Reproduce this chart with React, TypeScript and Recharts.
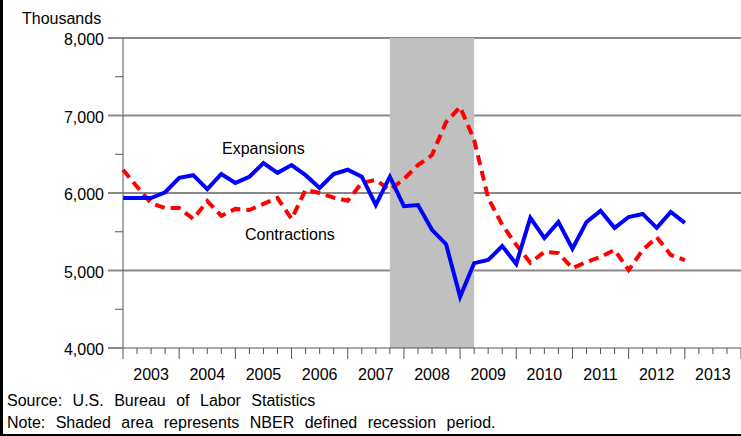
import React from "react";
import { LineChart, Line, XAxis, YAxis, ReferenceLine, ReferenceArea } from "recharts";

// quarter index 0 = first quarter of 2003
const years = [2003, 2004, 2005, 2006, 2007, 2008, 2009, 2010, 2011, 2012, 2013];
const quarterTicks = [
  0, 1, 2, 3, 4, 5, 6, 7, 8, 9, 10, 11, 12, 13, 14, 15, 16, 17, 18, 19, 20, 21, 22,
  23, 24, 25, 26, 27, 28, 29, 30, 31, 32, 33, 34, 35, 36, 37, 38, 39, 40, 41, 42, 43, 44,
];
const yTicks = [4000, 4500, 5000, 5500, 6000, 6500, 7000, 7500, 8000];
const gridValues = [5000, 6000, 7000, 8000];
const recession = [19, 25];

const expansions = [
  5935, 5935, 5935, 6010, 6195, 6230, 6050, 6245, 6130, 6210, 6385, 6260, 6360, 6230,
  6065, 6245, 6300, 6210, 5845, 6210, 5830, 5845, 5525, 5340, 4660, 5095, 5135, 5315,
  5085, 5680, 5420, 5625, 5280, 5625, 5770, 5550, 5690, 5730, 5550, 5755, 5615,
];
const contractions = [
  6300, 6080, 5870, 5805, 5805, 5665, 5895, 5705, 5795, 5780, 5860, 5935, 5665, 6040,
  6000, 5940, 5900, 6130, 6170, 6040, 6180, 6360, 6490, 6915, 7110, 6685, 5935, 5590,
  5330, 5100, 5240, 5225, 5030, 5110, 5175, 5265, 5005, 5265, 5430, 5200, 5135,
];

const data = expansions.map((v, i) => ({ q: i, expansions: v, contractions: contractions[i] }));

const font = '"Liberation Sans", Arial, Helvetica, sans-serif';

const XTick = (props: any) => {
  const { x, y, payload } = props;
  const q = payload.value;
  const major = q % 4 === 0;
  return (
    <g>
      <line x1={x} y1={y} x2={x} y2={y + (major ? 11 : 6)} stroke="#555" strokeWidth={1} />
      {q % 4 === 2 && (
        <text x={x} y={y + 32} textAnchor="middle" fontSize={16} fontFamily={font} fill="#000">
          {years[(q - 2) / 4]}
        </text>
      )}
    </g>
  );
};

const YTick = (props: any) => {
  const { x, y, payload } = props;
  const v = payload.value;
  const major = v % 1000 === 0;
  return (
    <g>
      <line
        x1={x - (major ? 15 : 8)}
        y1={y}
        x2={x}
        y2={y}
        stroke={major ? "#888" : "#555"}
        strokeWidth={major ? 2 : 1}
      />
      {major && (
        <text x={x - 19} y={y + 7} textAnchor="end" fontSize={16} fontFamily={font} fill="#000">
          {v.toLocaleString("en-US")}
        </text>
      )}
    </g>
  );
};

export default function App() {
  return (
    <div
      style={{
        position: "absolute",
        left: 0,
        top: 0,
        width: 741,
        height: 436,
        background: "#fff",
        fontFamily: font,
        overflow: "hidden",
      }}
    >
      <LineChart width={741} height={436} data={data} margin={{ top: 38, right: 0, bottom: 58, left: 0 }}>
        {gridValues.map((v) => (
          <ReferenceLine key={v} y={v} stroke="#888" strokeWidth={2} zIndex={50} />
        ))}
        <ReferenceArea
          x1={recession[0]}
          x2={recession[1]}
          y1={4000}
          y2={8000}
          fill="#c0c0c0"
          fillOpacity={1}
          stroke="none"
          zIndex={60}
        />
        <XAxis
          type="number"
          dataKey="q"
          domain={[0, 44]}
          ticks={quarterTicks}
          interval={0}
          height={30}
          tickSize={0}
          tickMargin={0}
          tick={<XTick />}
          axisLine={{ stroke: "#555" }}
        />
        <YAxis
          type="number"
          domain={[4000, 8000]}
          ticks={yTicks}
          interval={0}
          width={123}
          tickSize={0}
          tickMargin={0}
          tick={<YTick />}
          axisLine={{ stroke: "#555" }}
        />
        <Line
          dataKey="contractions"
          stroke="#ff0000"
          strokeWidth={4}
          strokeDasharray="10 6"
          dot={false}
          isAnimationActive={false}
        />
        <Line dataKey="expansions" stroke="#0000ff" strokeWidth={4} dot={false} isAnimationActive={false} />
      </LineChart>

      <div style={{ position: "absolute", left: 22, top: 10, fontSize: 16, lineHeight: "18px" }}>Thousands</div>
      <div style={{ position: "absolute", left: 222, top: 140, fontSize: 16, lineHeight: "18px" }}>Expansions</div>
      <div style={{ position: "absolute", left: 245, top: 226, fontSize: 16, lineHeight: "18px" }}>Contractions</div>
      <div style={{ position: "absolute", left: 7, top: 392, fontSize: 16, lineHeight: "18px", wordSpacing: 6 }}>
        Source: U.S. Bureau of Labor Statistics
      </div>
      <div style={{ position: "absolute", left: 7, top: 414, fontSize: 16, lineHeight: "18px", wordSpacing: 6 }}>
        Note: Shaded area represents NBER defined recession period.
      </div>
      <div style={{ position: "absolute", left: 0, top: 0, width: 3, height: 436, background: "#000" }} />
      <div style={{ position: "absolute", left: 0, top: 434, width: 741, height: 2, background: "#000" }} />
    </div>
  );
}
